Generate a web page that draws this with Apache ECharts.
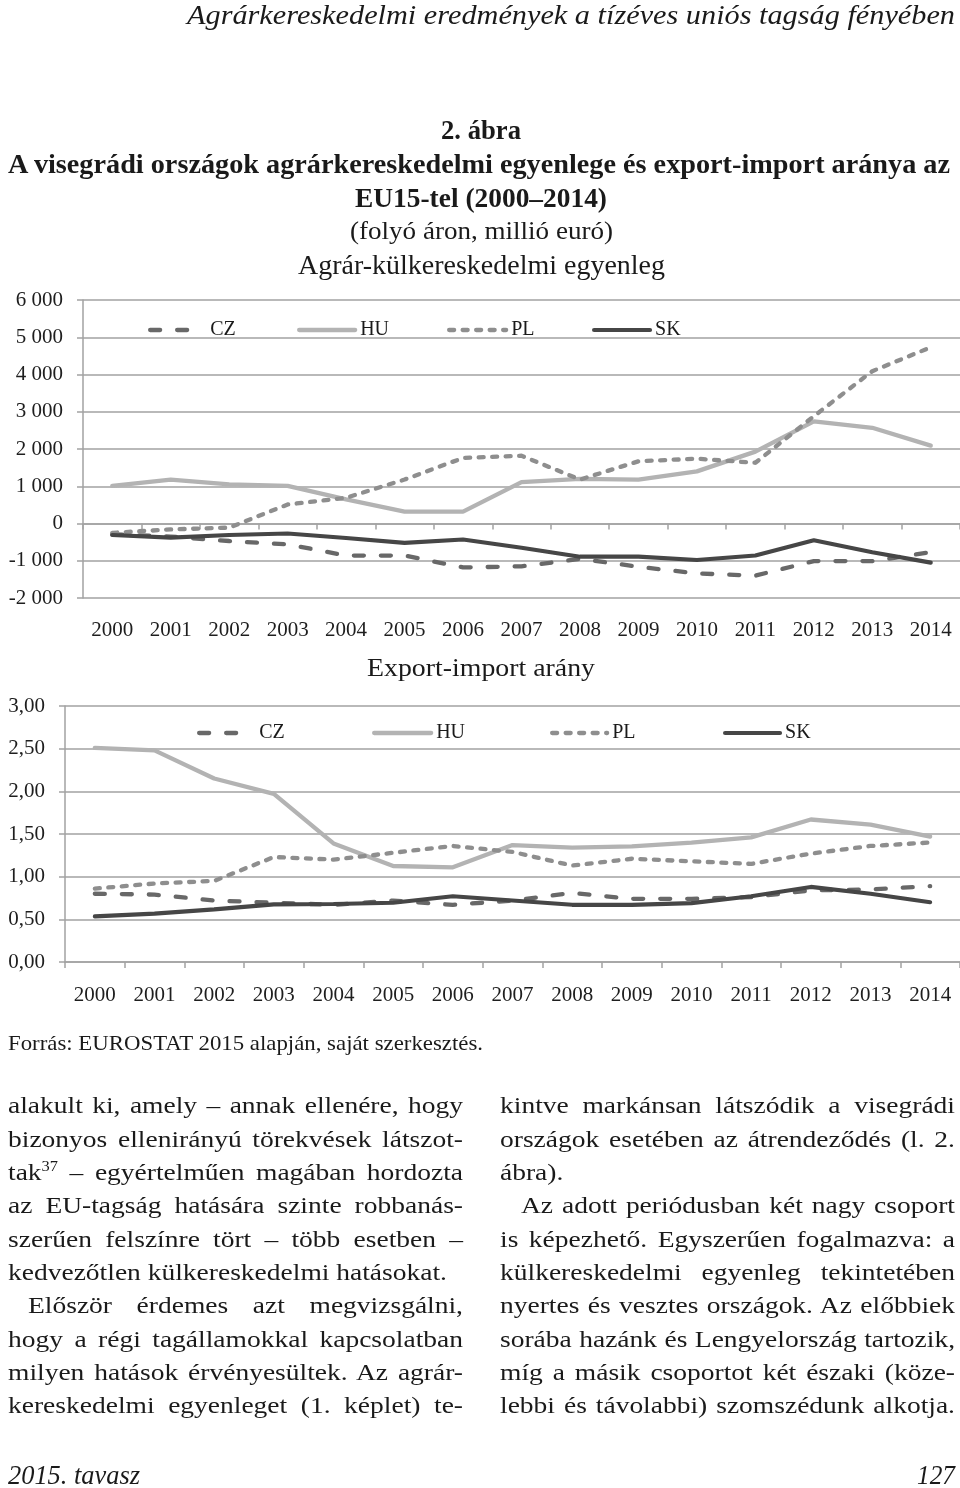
<!DOCTYPE html>
<html>
<head>
<meta charset="utf-8">
<script src="https://cdn.jsdelivr.net/npm/echarts@6/dist/echarts.min.js"></script>
<style>
  html, body { margin:0; padding:0; background:#fff; }
  #page { position:relative; width:960px; height:1488px; overflow:hidden; background:#fff; }
  #chart { position:absolute; left:0; top:0; width:960px; height:1488px; }
  .t { position:absolute; white-space:nowrap; font-family:"Liberation Serif","Times New Roman",serif; color:#1a1a1a; transform-origin:0 0; z-index:2; }
  sup { font-size:0.6em; line-height:0; vertical-align:0.65em; }
</style>
</head>
<body>
<div id="page"><div id="chart"></div></div>
<script>
// ---------- DATA ----------
const years = ['2000','2001','2002','2003','2004','2005','2006','2007','2008','2009','2010','2011','2012','2013','2014'];
const countries = ['CZ','HU','PL','SK'];

// Agrár-külkereskedelmi egyenleg (millió euró)
const balCZ = [-290, -350, -470, -560, -860, -860, -1180, -1150, -950, -1160, -1340, -1400, -1010, -1010, -770];
const balHU = [1010, 1180, 1050, 1010, 650, 320, 320, 1110, 1200, 1180, 1400, 1930, 2740, 2570, 2090];
const balPL = [-250, -160, -110, 510, 690, 1180, 1760, 1820, 1180, 1670, 1740, 1630, 2880, 4090, 4730];
const balSK = [-310, -380, -310, -270, -390, -520, -430, -650, -890, -890, -980, -860, -450, -770, -1050];

// Export-import arány
const ratCZ = [0.80, 0.79, 0.72, 0.695, 0.67, 0.72, 0.67, 0.72, 0.81, 0.74, 0.74, 0.76, 0.84, 0.85, 0.89];
const ratHU = [2.51, 2.48, 2.15, 1.97, 1.39, 1.125, 1.11, 1.37, 1.34, 1.355, 1.40, 1.46, 1.67, 1.61, 1.47];
const ratPL = [0.86, 0.92, 0.95, 1.23, 1.20, 1.28, 1.36, 1.29, 1.13, 1.21, 1.18, 1.15, 1.27, 1.36, 1.40];
const ratSK = [0.535, 0.567, 0.617, 0.675, 0.68, 0.695, 0.77, 0.72, 0.67, 0.67, 0.69, 0.77, 0.88, 0.80, 0.70];

const balTicks = [-2000, 6000, 1000];  // min, max, interval
const ratTicks = [0, 3, 0.5];

// ---------- STYLES ----------
const lineStyles = {
  CZ: { color:'#686868', type:[10,17], width:4.3, cap:'round' },
  HU: { color:'#b3b3b3', type:'solid', width:4.3, cap:'round' },
  PL: { color:'#8e8e8e', type:[5,8.5], width:4.3, cap:'round' },
  SK: { color:'#464646', type:'solid', width:4.1, cap:'round' }
};
const balData = { CZ: balCZ, HU: balHU, PL: balPL, SK: balSK };
const ratData = { CZ: ratCZ, HU: ratHU, PL: ratPL, SK: ratSK };

const FONT = 'Liberation Serif';
const gridColor = '#a2a2a2';

function fmtBal(v) {
  const s = Math.abs(v).toString().replace(/\B(?=(\d{3})+(?!\d))/g, ' ');
  return (v < 0 ? '-' : '') + s;
}
function fmtRat(v) { return v.toFixed(2).replace('.', ','); }

const series = [];
countries.forEach(c => {
  series.push({ name:c, type:'line', xAxisIndex:0, yAxisIndex:0, data:balData[c], symbol:'none',
    lineStyle: lineStyles[c], color: lineStyles[c].color, animation:false, silent:true });
});
countries.forEach(c => {
  series.push({ name:c, type:'line', xAxisIndex:2, yAxisIndex:1, data:ratData[c], symbol:'none',
    lineStyle: lineStyles[c], color: lineStyles[c].color, animation:false, silent:true });
});

// legend placements (icon start, icon width, text padding)
const leg1 = { CZ:[143,45,10], HU:[292,56,0], PL:[442,57,0], SK:[587,56,0] };
const leg2 = { CZ:[192,45,10], HU:[367,57,0], PL:[545,55,0], SK:[718,55,0] };
const legends = [];
function addLegends(spec, yc) {
  countries.forEach(c => {
    const ls = lineStyles[c];
    legends.push({
      data:[c], left:spec[c][0], top:yc - 8, itemWidth:spec[c][1], itemHeight:16,
      selectedMode:false, itemStyle:{ opacity:0 },
      lineStyle:{ width:ls.width, type:ls.type, color:ls.color, cap:'round' },
      textStyle:{ fontFamily:FONT, fontSize:20, color:'#1a1a1a', padding:[0,0,0,spec[c][2]] }
    });
  });
}
addLegends(leg1, 323);
addLegends(leg2, 726);

const axisLbl = { fontFamily:FONT, fontSize:21, color:'#1e1e1e' };

const option = {
  animation:false,
  backgroundColor:'transparent',
  legend: legends,
  grid: [
    { left:83, top:300, width:877, height:298 },
    { left:65, top:706, width:896, height:256 }
  ],
  xAxis: [
    { gridIndex:0, type:'category', data:years, position:'bottom', boundaryGap:true,
      axisLine:{ show:false, onZero:false }, axisTick:{ show:false },
      axisLabel:{ ...axisLbl, margin:22, interval:0 }, splitLine:{ show:false } },
    { gridIndex:0, type:'category', data:years, position:'bottom', boundaryGap:true,
      axisLine:{ show:true, onZero:true, lineStyle:{ color:gridColor, width:1.5 } },
      axisTick:{ show:true, length:6, lineStyle:{ color:gridColor, width:1.5 } },
      axisLabel:{ show:false }, splitLine:{ show:false } },
    { gridIndex:1, type:'category', data:years, position:'bottom', boundaryGap:true,
      axisLine:{ show:true, onZero:false, lineStyle:{ color:gridColor, width:1.5 } },
      axisTick:{ show:true, length:6, lineStyle:{ color:gridColor, width:1.5 } },
      axisLabel:{ ...axisLbl, margin:23, interval:0 }, splitLine:{ show:false } }
  ],
  yAxis: [
    { gridIndex:0, type:'value', min:balTicks[0], max:balTicks[1], interval:balTicks[2],
      axisLine:{ show:true, lineStyle:{ color:gridColor, width:1.5 } },
      axisTick:{ show:true, length:6, lineStyle:{ color:gridColor, width:1.5 } },
      splitLine:{ show:true, lineStyle:{ color:gridColor, width:1.5 } },
      axisLabel:{ ...axisLbl, margin:20, formatter:fmtBal } },
    { gridIndex:1, type:'value', min:ratTicks[0], max:ratTicks[1], interval:ratTicks[2],
      axisLine:{ show:true, lineStyle:{ color:gridColor, width:1.5 } },
      axisTick:{ show:true, length:6, lineStyle:{ color:gridColor, width:1.5 } },
      splitLine:{ show:true, lineStyle:{ color:gridColor, width:1.5 } },
      axisLabel:{ ...axisLbl, margin:20, formatter:fmtRat } }
  ],
  series: series
};

const chart = echarts.init(document.getElementById('chart'), null, { renderer:'canvas' });
chart.setOption(option);

// ---------- PAGE TEXT ----------
// [html, left x, target width (null = natural*k), baseline y, font size, weight, style, mode]
const B0 = 1113.3, LH = 33.33;
const texts = [
  ['Agrárkereskedelmi eredmények a tízéves uniós tagság fényében', 187, 768, 24, 28, 'normal', 'italic', 'scale'],
  ['2. ábra', 441, 80, 140, 27, 'bold', 'normal', 'scale'],
  ['A visegrádi országok agrárkereskedelmi egyenlege és export-import aránya az', 8, 942, 173, 28, 'bold', 'normal', 'scale'],
  ['EU15-tel (2000–2014)', 355, 252, 207, 28, 'bold', 'normal', 'scale'],
  ['(folyó áron, millió euró)', 350, 263, 240, 26, 'normal', 'normal', 'scale'],
  ['Agrár-külkereskedelmi egyenleg', 298, 367, 275, 27, 'normal', 'normal', 'scale'],
  ['Export-import arány', 367, 228, 677, 26, 'normal', 'normal', 'scale'],
  ['Forrás: EUROSTAT 2015 alapján, saját szerkesztés.', 8, 475, 1051, 21, 'normal', 'normal', 'scale'],
  // left column
  ['alakult ki, amely – annak ellenére, hogy', 8, 455, B0, 24, 'normal', 'normal', 'just'],
  ['bizonyos ellenirányú törekvések látszot-', 8, 455, B0+LH, 24, 'normal', 'normal', 'just'],
  ['tak<sup>37</sup> – egyértelműen magában hordozta', 8, 455, B0+2*LH, 24, 'normal', 'normal', 'just'],
  ['az EU-tagság hatására szinte robbanás-', 8, 455, B0+3*LH, 24, 'normal', 'normal', 'just'],
  ['szerűen felszínre tört – több esetben –', 8, 455, B0+4*LH, 24, 'normal', 'normal', 'just'],
  ['kedvezőtlen külkereskedelmi hatásokat.', 8, 439, B0+5*LH, 24, 'normal', 'normal', 'just'],
  ['Először érdemes azt megvizsgálni,', 28, 435, B0+6*LH, 24, 'normal', 'normal', 'just'],
  ['hogy a régi tagállamokkal kapcsolatban', 8, 455, B0+7*LH, 24, 'normal', 'normal', 'just'],
  ['milyen hatások érvényesültek. Az agrár-', 8, 455, B0+8*LH, 24, 'normal', 'normal', 'just'],
  ['kereskedelmi egyenleget (1. képlet) te-', 8, 455, B0+9*LH, 24, 'normal', 'normal', 'just'],
  // right column
  ['kintve markánsan látszódik a visegrádi', 500, 455, B0, 24, 'normal', 'normal', 'just'],
  ['országok esetében az átrendeződés (l. 2.', 500, 455, B0+LH, 24, 'normal', 'normal', 'just'],
  ['ábra).', 500, null, B0+2*LH, 24, 'normal', 'normal', 'just'],
  ['Az adott periódusban két nagy csoport', 521, 434, B0+3*LH, 24, 'normal', 'normal', 'just'],
  ['is képezhető. Egyszerűen fogalmazva: a', 500, 455, B0+4*LH, 24, 'normal', 'normal', 'just'],
  ['külkereskedelmi egyenleg tekintetében', 500, 455, B0+5*LH, 24, 'normal', 'normal', 'just'],
  ['nyertes és vesztes országok. Az előbbiek', 500, 455, B0+6*LH, 24, 'normal', 'normal', 'just'],
  ['sorába hazánk és Lengyelország tartozik,', 500, 455, B0+7*LH, 24, 'normal', 'normal', 'just'],
  ['míg a másik csoportot két északi (köze-', 500, 455, B0+8*LH, 24, 'normal', 'normal', 'just'],
  ['lebbi és távolabbi) szomszédunk alkotja.', 500, 455, B0+9*LH, 24, 'normal', 'normal', 'just'],
  // footer
  ['2015. tavasz', 8, 132, 1485, 27, 'normal', 'italic', 'scale'],
  ['127', 917, 38, 1485, 27, 'normal', 'italic', 'scale']
];

const page = document.getElementById('page');
const made = texts.map(([html, x, w, base, fs, weight, style, mode]) => {
  const d = document.createElement('div');
  d.className = 't';
  d.innerHTML = html;
  d.style.left = x + 'px';
  d.style.fontSize = fs + 'px';
  d.style.lineHeight = fs + 'px';
  d.style.fontWeight = weight;
  d.style.fontStyle = style;
  d.style.top = (base - 0.8375 * fs) + 'px';
  page.appendChild(d);
  return { d, w, mode, nat: d.getBoundingClientRect().width, txt: d.textContent };
});
// horizontal stretch of the body type, taken from the paragraph's last (unjustified) line
const ref = made.find(m => m.txt.startsWith('kedvezőtlen'));
const k = ref.w / ref.nat;
made.forEach(m => {
  if (m.mode === 'just') {
    m.d.style.transform = 'scaleX(' + k + ')';
    if (m.w) {
      const spaces = (m.txt.match(/ /g) || []).length;
      const extra = m.w / k - m.nat;
      if (spaces > 0 && extra > 0) m.d.style.wordSpacing = (extra / spaces) + 'px';
      else m.d.style.transform = 'scaleX(' + (m.w / m.nat) + ')';
    }
  } else if (m.w) {
    m.d.style.transform = 'scaleX(' + (m.w / m.nat) + ')';
  }
});
</script>
</body>
</html>
